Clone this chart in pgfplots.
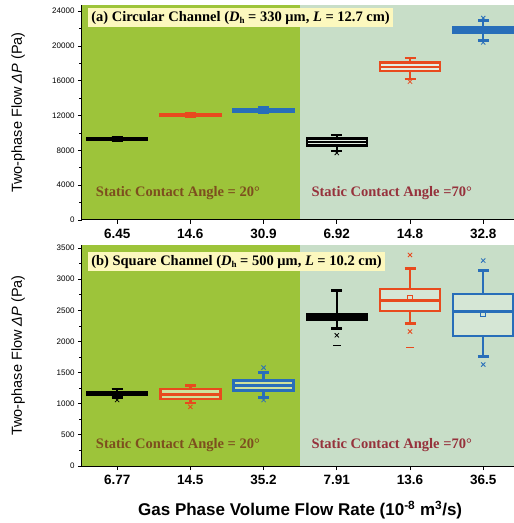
\documentclass[border=0pt]{standalone}
\usepackage{fontspec}
\setmainfont{Liberation Sans}
\newfontfamily\serifb{Liberation Serif}
\usepackage{pgfplots}
\pgfplotsset{compat=1.18}
\usepgfplotslibrary{statistics}
\definecolor{leftbg}{RGB}{157,196,58}
\definecolor{rightbg}{RGB}{200,222,200}
\definecolor{cred}{RGB}{232,74,30}
\definecolor{cblue}{RGB}{40,110,185}
\definecolor{titlebg}{RGB}{252,248,190}
\definecolor{lefttxt}{RGB}{125,78,30}
\definecolor{righttxt}{RGB}{150,50,60}
\pgfplotsset{
 myax/.style={
  scale only axis, width=432pt, xmin=-0.48, xmax=5.42, ymin=0,
  boxplot/draw direction=y,
  axis on top, axis x line*=bottom, axis y line*=left,
  axis line style={line width=1pt,-},
  xtick={0,...,5}, tick align=outside, major tick length=4pt, minor tick length=2.5pt,
  minor y tick num=1,
  xticklabel style={font=\fontsize{13.5}{14}\selectfont\bfseries, yshift=-2pt},
  yticklabel style={font=\fontsize{8}{9}\selectfont},
  /pgf/number format/assume math mode=true, scaled y ticks=false,
  /pgf/number format/1000 sep={},
  ylabel={Two-phase Flow {\itshape ΔP} (Pa)},
  ylabel style={at={(axis description cs:-0.148,0.5)}, anchor=center, font=\fontsize{14.5}{15}\selectfont},
  tick style={black, line width=0.8pt},
 },
 bx/.style={line width=2.5pt, mark=x, mark size=3pt, mark options={solid, line width=0.8pt}},
}
\begin{document}
\begin{tikzpicture}
\path[use as bounding box] (0,0) rectangle (514pt,523pt);
% ---------------- top panel (values in kPa) ----------------
\begin{axis}[myax, at={(82pt,303pt)}, anchor=south west, height=215pt, ymax=24.7,
  ytick={0,4,...,24}, yticklabels={0,4000,8000,12000,16000,20000,24000},
  xticklabels={6.45,14.6,30.9,6.92,14.8,32.8}]
\fill[leftbg] (axis cs:-0.48,0) rectangle (axis cs:2.5,24.7);
\fill[rightbg] (axis cs:2.5,0) rectangle (axis cs:5.42,24.7);
\addplot[bx, draw=black, fill=black, boxplot prepared={draw position=0, lower whisker=9.05, lower quartile=9.18, median=9.30, upper quartile=9.42, upper whisker=9.55, box extend=0.82, whisker extend=0.15}] coordinates {};
\addplot[bx, draw=cred, fill=cred, boxplot prepared={draw position=1, lower whisker=11.85, lower quartile=11.96, median=12.08, upper quartile=12.20, upper whisker=12.30, box extend=0.82, whisker extend=0.15}] coordinates {};
\addplot[bx, draw=cblue, fill=cblue, boxplot prepared={draw position=2, lower whisker=12.30, lower quartile=12.46, median=12.60, upper quartile=12.75, upper whisker=12.90, box extend=0.82, whisker extend=0.15}] coordinates {};
\addplot[bx, draw=black, fill=white, fill opacity=0.5, boxplot prepared={draw position=3, lower whisker=7.90, lower quartile=8.55, median=8.95, upper quartile=9.35, upper whisker=9.75, box extend=0.82, whisker extend=0.15}] coordinates {(3,7.7)};
\addplot[bx, draw=cred, fill=white, fill opacity=0.5, boxplot prepared={draw position=4, lower whisker=16.2, lower quartile=17.12, median=17.6, upper quartile=18.1, upper whisker=18.6, box extend=0.82, whisker extend=0.15}] coordinates {(4,15.9)};
\addplot[bx, draw=cblue, fill=cblue, boxplot prepared={draw position=5, lower whisker=20.6, lower quartile=21.5, median=21.85, upper quartile=22.15, upper whisker=22.9, box extend=0.82, whisker extend=0.15}] coordinates {(5,23.2) (5,20.4)};
\node[anchor=north west, fill=titlebg, inner sep=3pt, font=\serifb\bfseries\fontsize{14.5}{15}\selectfont] at (rel axis cs:0.014,0.986)
  {(a) Circular Channel ({\itshape D}\raisebox{-2pt}{\fontsize{9}{9}\selectfont h} = 330 μm, {\itshape L} = 12.7 cm)};
\node[text=lefttxt, font=\serifb\bfseries\fontsize{14.5}{15}\selectfont] at (axis cs:0.83,3.1) {Static Contact Angle = 20°};
\node[text=righttxt, font=\serifb\bfseries\fontsize{14.5}{15}\selectfont] at (axis cs:3.75,3.1) {Static Contact Angle =70°};
\end{axis}
% ---------------- bottom panel (values in kPa) ----------------
\begin{axis}[myax, at={(82pt,57pt)}, anchor=south west, height=221pt, ymax=3.55,
  ytick={0,0.5,...,3.5}, yticklabels={0,500,1000,1500,2000,2500,3000,3500},
  xticklabels={6.77,14.5,35.2,7.91,13.6,36.5},
  xlabel={Gas Phase Volume Flow Rate (10\textsuperscript{-8} m\textsuperscript{3}/s)},
  xlabel style={at={(axis description cs:0.505,0)}, yshift=-44pt, anchor=center, font=\fontsize{17}{18}\selectfont\bfseries}]
\fill[leftbg] (axis cs:-0.48,0) rectangle (axis cs:2.5,3.55);
\fill[rightbg] (axis cs:2.5,0) rectangle (axis cs:5.42,3.55);
\addplot[bx, draw=black, fill=black, boxplot prepared={draw position=0, lower whisker=1.100, lower quartile=1.145, median=1.165, upper quartile=1.190, upper whisker=1.240, box extend=0.82, whisker extend=0.15}] coordinates {(0,1.060)};
\addplot[bx, draw=cred, fill=white, fill opacity=0.5, boxplot prepared={draw position=1, lower whisker=1.010, lower quartile=1.075, median=1.150, upper quartile=1.235, upper whisker=1.290, box extend=0.82, whisker extend=0.15}] coordinates {(1,0.950)};
\addplot[bx, draw=cblue, fill=white, fill opacity=0.5, boxplot prepared={draw position=2, lower whisker=1.100, lower quartile=1.210, median=1.290, upper quartile=1.370, upper whisker=1.500, box extend=0.82, whisker extend=0.15}] coordinates {(2,1.580) (2,1.060)};
\addplot[bx, draw=black, fill=black, boxplot prepared={draw position=3, lower whisker=2.210, lower quartile=2.350, median=2.400, upper quartile=2.440, upper whisker=2.820, box extend=0.82, whisker extend=0.15}] coordinates {(3,2.100)};
\addplot[bx, draw=cred, fill=white, fill opacity=0.25, boxplot prepared={draw position=4, lower whisker=2.290, lower quartile=2.490, median=2.660, upper quartile=2.840, upper whisker=3.170, box extend=0.82, whisker extend=0.15}] coordinates {(4,2.160) (4,3.390)};
\addplot[bx, draw=cblue, fill=white, fill opacity=0.25, boxplot prepared={draw position=5, lower whisker=1.760, lower quartile=2.090, median=2.480, upper quartile=2.760, upper whisker=3.140, box extend=0.82, whisker extend=0.15}] coordinates {(5,1.630) (5,3.300)};
\addplot[only marks, mark=-, mark size=4pt, line width=0.8pt, black] coordinates {(3,1.940)};
\addplot[only marks, mark=-, mark size=4pt, line width=0.8pt, cred] coordinates {(4,1.910)};
\addplot[only marks, mark=square, mark size=2.5pt, line width=0.7pt, cred] coordinates {(4,2.700)};
\addplot[only marks, mark=square, mark size=2.5pt, line width=0.7pt, cblue] coordinates {(5,2.440)};
\node[anchor=north west, fill=titlebg, inner sep=3pt, font=\serifb\bfseries\fontsize{14.5}{15}\selectfont] at (rel axis cs:0.014,0.968)
  {(b) Square Channel ({\itshape D}\raisebox{-2pt}{\fontsize{9}{9}\selectfont h} = 500 μm, {\itshape L} = 10.2 cm)};
\node[text=lefttxt, font=\serifb\bfseries\fontsize{14.5}{15}\selectfont] at (axis cs:0.83,0.33) {Static Contact Angle = 20°};
\node[text=righttxt, font=\serifb\bfseries\fontsize{14.5}{15}\selectfont] at (axis cs:3.75,0.33) {Static Contact Angle =70°};
\end{axis}
\end{tikzpicture}
\end{document}
